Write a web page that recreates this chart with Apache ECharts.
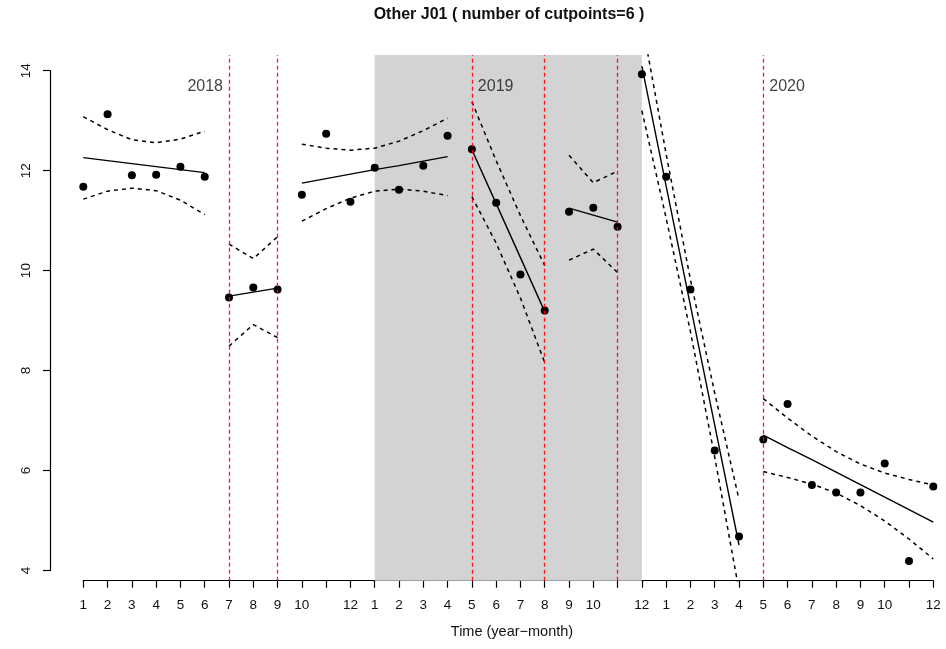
<!DOCTYPE html>
<html>
<head>
<meta charset="utf-8">
<script src="https://cdn.jsdelivr.net/npm/echarts@6/dist/echarts.min.js"></script>
<style>
html,body{margin:0;padding:0;background:#fff;}
#chart{width:946px;height:649px;}
</style>
</head>
<body>
<div id="chart"></div>
<script>
// ---------- data ----------
const chartTitle = 'Other J01 ( number of cutpoints=6 )';
const xAxisTitle = 'Time (year\u2212month)';
// month tick labels, 2018-01 .. 2020-12 (label 11 is not printed in the reference)
const tickLabels = ['1','2','3','4','5','6','7','8','9','10','','12',
                    '1','2','3','4','5','6','7','8','9','10','','12',
                    '1','2','3','4','5','6','7','8','9','10','','12'];
// observed monthly values
const values = [11.68, 13.13, 11.91, 11.92, 12.08, 11.88,
                9.46, 9.66, 9.62,
                11.52, 12.74, 11.38, 12.06, 11.62, 12.10, 12.70,
                12.43, 11.36, 9.92, 9.20,
                11.18, 11.26, 10.88,
                13.93, 11.88, 9.62, 6.40, 4.68,
                6.62, 7.33, 5.71, 5.56, 5.56, 6.14, 4.19, 5.68];
// fitted regression line per segment
const fitValues = [12.26, 12.20, 12.14, 12.08, 12.02, 11.96,
                   9.49, 9.57, 9.65,
                   11.75, 11.84, 11.93, 12.02, 12.10, 12.19, 12.28,
                   12.42, 11.34, 10.26, 9.18,
                   11.25, 11.11, 10.97,
                   14.09, 11.69, 9.30, 6.91, 4.51,
                   6.71, 6.46, 6.22, 5.97, 5.72, 5.47, 5.22, 4.97];
// upper / lower confidence band
const upperValues = [13.08, 12.82, 12.62, 12.56, 12.63, 12.79,
                     10.53, 10.24, 10.68,
                     12.53, 12.45, 12.41, 12.45, 12.59, 12.80, 13.05,
                     13.38, 12.20, 11.10, 10.10,
                     12.31, 11.76, 11.99,
                     14.99, 12.33, 9.82, 7.55, 5.42,
                     7.44, 7.05, 6.69, 6.38, 6.13, 5.95, 5.82, 5.71];
const lowerValues = [11.43, 11.59, 11.65, 11.60, 11.41, 11.12,
                     8.49, 8.92, 8.66,
                     10.99, 11.24, 11.45, 11.59, 11.63, 11.59, 11.50,
                     11.48, 10.55, 9.45, 8.16,
                     10.21, 10.43, 9.96,
                     13.20, 11.05, 8.78, 6.27, 3.60,
                     5.98, 5.86, 5.73, 5.55, 5.30, 4.99, 4.63, 4.23];
// first month index of each regression segment
const segmentStarts = [0, 6, 9, 16, 20, 23, 28];
// cutpoints (month index) drawn as red dashed lines
const cutpoints = [6, 8, 16, 19, 22, 28];
// shaded period (month index range)
const shadeRange = [12, 23];
// year annotations
const yearLabels = ['2018', '2019', '2020'];
const yearLabelX = [6, 16, 28];
const yearLabelY = 13.68;
const yearLabelSide = ['left', 'right', 'right'];

// ---------- build ----------
const FONT = '"Liberation Sans", Arial, Helvetica, sans-serif';
const n = values.length;
const segs = segmentStarts.map((s, k) => [s, (k + 1 < segmentStarts.length ? segmentStarts[k + 1] : n) - 1]);
function slice(arr, a, b) { const out = []; for (let i = a; i <= b; i++) out.push([i, arr[i]]); return out; }

const series = [];
// shaded area (behind)
series.push({
  type: 'line', xAxisIndex: 0, yAxisIndex: 0, data: [], z: 0, silent: true,
  markArea: { silent: true, itemStyle: { color: '#d3d3d3' },
    data: [[{ xAxis: shadeRange[0] }, { xAxis: shadeRange[1] }]] }
});
segs.forEach(([a, b]) => {
  series.push({ type: 'line', data: slice(fitValues, a, b), symbol: 'none', z: 3, silent: true,
    lineStyle: { color: '#000', width: 1.4 } });
  series.push({ type: 'line', data: slice(upperValues, a, b), symbol: 'none', z: 3, silent: true,
    lineStyle: { color: '#000', width: 1.5, type: [4, 4] } });
  series.push({ type: 'line', data: slice(lowerValues, a, b), symbol: 'none', z: 3, silent: true,
    lineStyle: { color: '#000', width: 1.5, type: [4, 4] } });
});
series.push({ type: 'scatter', data: values.map((v, i) => [i, v]), symbol: 'circle', symbolSize: 8,
  itemStyle: { color: '#000', opacity: 1 }, z: 4, silent: true });
// red cutpoint lines (drawn on top)
series.push({ type: 'line', data: [], z: 6, silent: true,
  markLine: { silent: true, symbol: 'none', label: { show: false },
    lineStyle: { color: '#ff0000', width: 1.3, type: [4, 3], opacity: 0.9 },
    data: cutpoints.map(c => ({ xAxis: c })) } });
// year labels
series.push({ type: 'scatter', symbolSize: 0, z: 7, silent: true,
  data: yearLabels.map((t, k) => ({ value: [yearLabelX[k], yearLabelY, t],
    label: { show: true, position: yearLabelSide[k], distance: 6, formatter: p => p.value[2],
      fontSize: 16, color: '#111', fontFamily: FONT } })) });

const option = {
  animation: false,
  backgroundColor: '#fff',
  grid: [
    { left: 83.3, right: 12.7, top: 55, bottom: 68.3 },
    { left: 50, width: 10, top: 70.7, bottom: 78.5 }
  ],
  xAxis: [
    { type: 'value', gridIndex: 0, min: 0, max: n - 1, interval: 1, splitLine: { show: false },
      axisLine: { show: true, onZero: false, lineStyle: { color: '#000', width: 1.2 } },
      axisTick: { show: true, length: 7, lineStyle: { color: '#000', width: 1.2 } },
      axisLabel: { margin: 18, fontSize: 13.5, color: '#111', fontFamily: FONT,
        showMinLabel: true, showMaxLabel: true, formatter: v => tickLabels[Math.round(v)] } },
    { type: 'value', gridIndex: 1, show: false, min: 0, max: 1 }
  ],
  yAxis: [
    { type: 'value', gridIndex: 0, show: false, min: 3.796, max: 14.314 },
    { type: 'value', gridIndex: 1, position: 'left', min: 4, max: 14, interval: 2, splitLine: { show: false },
      axisLine: { show: true, onZero: false, lineStyle: { color: '#000', width: 1.2 } },
      axisTick: { show: true, length: 7, lineStyle: { color: '#000', width: 1.2 } },
      axisLabel: { rotate: 90, margin: 17, fontSize: 13.5, color: '#111', fontFamily: FONT } }
  ],
  graphic: [
    { type: 'text', x: 509, y: 15, silent: true,
      style: { text: chartTitle, font: 'bold 16px ' + FONT, fill: '#111', align: 'center', verticalAlign: 'middle', textAlign: 'center', textVerticalAlign: 'middle' } },
    { type: 'text', x: 512, y: 632, silent: true,
      style: { text: xAxisTitle, font: '14.5px ' + FONT, fill: '#111', align: 'center', verticalAlign: 'middle', textAlign: 'center', textVerticalAlign: 'middle' } }
  ],
  series: series
};
const chart = echarts.init(document.getElementById('chart'), null, { renderer: 'canvas' });
chart.setOption(option);
</script>
</body>
</html>
